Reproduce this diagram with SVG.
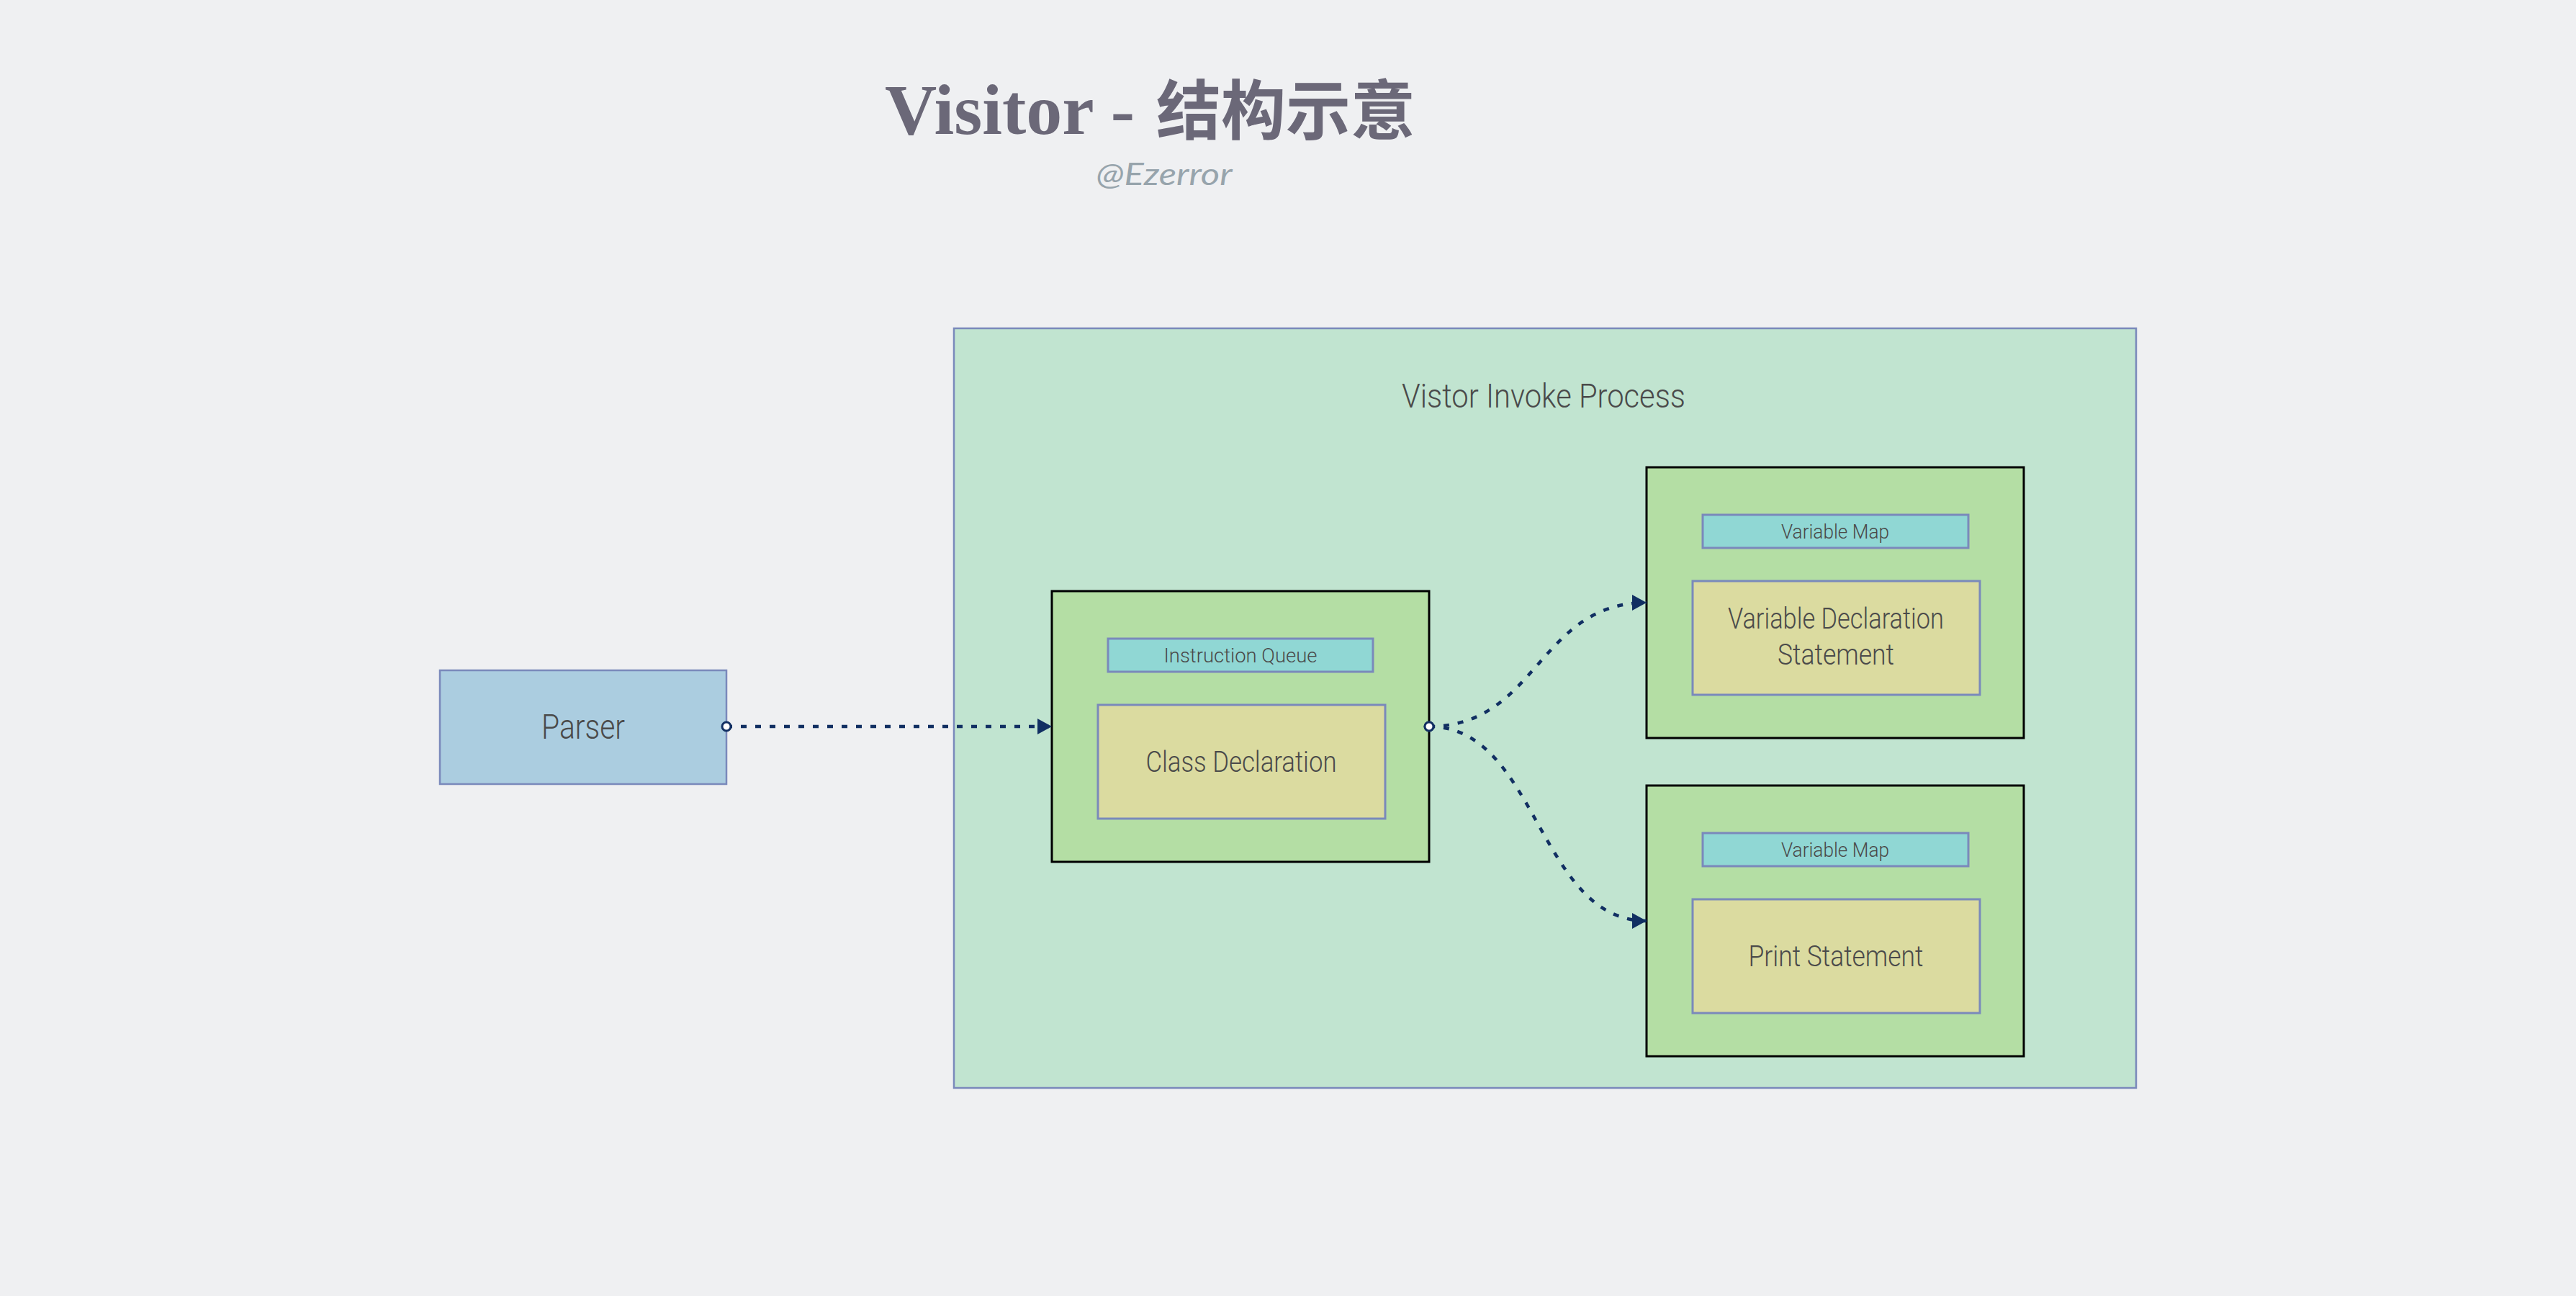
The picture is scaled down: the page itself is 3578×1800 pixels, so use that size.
<svg xmlns="http://www.w3.org/2000/svg" width="3578" height="1800" viewBox="0 0 3578 1800">
<style>
.lbl{font-family:"Roboto","Liberation Sans",sans-serif;font-weight:300;fill:#4a4a4a;text-anchor:middle}
.frame{stroke:#7a89bb;stroke-width:2.5}
.grn{fill:#b4dea4;stroke:#000;stroke-width:3}
.cyan{fill:#90d7d4;stroke:#7a89bb;stroke-width:3}
.yel{fill:#dbdba0;stroke:#7a89bb;stroke-width:3}
.conn{fill:none;stroke:#112f62;stroke-width:4.5;stroke-dasharray:8 12}
</style>
<defs>
<marker id="arr" markerUnits="userSpaceOnUse" markerWidth="22" markerHeight="24" refX="20" refY="11" orient="auto" viewBox="0 0 22 24">
<path d="M0,0 L20,11 L0,22 z" fill="#112f62"/>
</marker>
<marker id="dot" markerUnits="userSpaceOnUse" markerWidth="20" markerHeight="20" refX="10" refY="10" orient="auto" viewBox="0 0 20 20">
<circle cx="10" cy="10" r="6" fill="#fff" stroke="#112f62" stroke-width="3"/>
</marker>
</defs>
<rect width="3578" height="1800" fill="#eff0f2"/>
<g id="title">
<text x="1229" y="186" font-family="'Liberation Serif',serif" font-weight="bold" font-size="100" fill="#6b6878">Visitor - <tspan x="1606" font-family="'Noto Sans CJK SC',sans-serif" font-size="90">结构示意</tspan></text>
<text x="1617" y="257" font-family="Lato,'Open Sans',sans-serif" font-style="italic" font-size="42" fill="#97a4ac" text-anchor="middle" textLength="189" lengthAdjust="spacingAndGlyphs">@Ezerror</text>
</g>
<g id="container">
<rect class="frame" x="1325" y="456" width="1642" height="1055" fill="#c1e4d0"/>
<text class="lbl" x="2144" y="566" font-size="46" textLength="394" lengthAdjust="spacingAndGlyphs">Vistor Invoke Process</text>
</g>
<g id="parser">
<rect class="frame" x="611" y="931" width="398" height="158" fill="#abcde0"/>
<text class="lbl" x="810" y="1026" font-size="48" textLength="116" lengthAdjust="spacingAndGlyphs">Parser</text>
</g>
<g id="class-decl">
<rect class="grn" x="1461" y="821" width="524" height="376"/>
<rect class="cyan" x="1539" y="887" width="368" height="46"/>
<text class="lbl" x="1723" y="920" font-size="28" textLength="213" lengthAdjust="spacingAndGlyphs">Instruction Queue</text>
<rect class="yel" x="1525" y="979" width="399" height="158"/>
<text class="lbl" x="1724" y="1072" font-size="40" textLength="265" lengthAdjust="spacingAndGlyphs">Class Declaration</text>
</g>
<g id="var-decl">
<rect class="grn" x="2287" y="649" width="524" height="376"/>
<rect class="cyan" x="2365" y="715" width="369" height="46"/>
<text class="lbl" x="2549" y="748" font-size="28" textLength="150" lengthAdjust="spacingAndGlyphs">Variable Map</text>
<rect class="yel" x="2351" y="807" width="399" height="158"/>
<text class="lbl" x="2550" y="873" font-size="40" textLength="300" lengthAdjust="spacingAndGlyphs">Variable Declaration</text>
<text class="lbl" x="2550" y="923" font-size="40" textLength="162" lengthAdjust="spacingAndGlyphs">Statement</text>
</g>
<g id="print">
<rect class="grn" x="2287" y="1091" width="524" height="376"/>
<rect class="cyan" x="2365" y="1157" width="369" height="46"/>
<text class="lbl" x="2549" y="1190" font-size="28" textLength="150" lengthAdjust="spacingAndGlyphs">Variable Map</text>
<rect class="yel" x="2351" y="1249" width="399" height="158"/>
<text class="lbl" x="2550" y="1342" font-size="40" textLength="243" lengthAdjust="spacingAndGlyphs">Print Statement</text>
</g>
<g id="connectors">
<path class="conn" d="M1009,1009 L1461,1009" marker-start="url(#dot)" marker-end="url(#arr)"/>
<path class="conn" d="M1985,1009 C2136,1009 2136,837 2287,837" marker-start="url(#dot)" marker-end="url(#arr)"/>
<path class="conn" d="M1985,1009 C2136,1009 2136,1279 2287,1279" marker-start="url(#dot)" marker-end="url(#arr)"/>
</g>
</svg>
